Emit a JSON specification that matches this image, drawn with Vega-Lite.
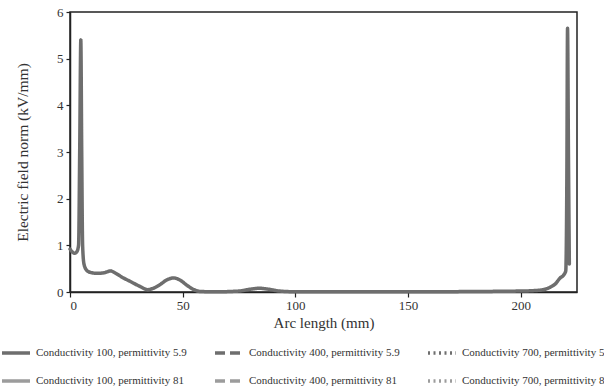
{
  "$schema": "https://vega.github.io/schema/vega-lite/v6.json",
  "autosize": {"type": "none"},
  "width": 507,
  "height": 280,
  "padding": {"left": 70, "top": 12, "right": 27, "bottom": 97},
  "background": "white",
  "config": {
    "font": "Liberation Serif",
    "view": {"stroke": "#222", "strokeWidth": 1.5},
    "axis": {"grid": false, "domainColor": "#222", "domainWidth": 1.5, "tickColor": "#222", "tickWidth": 1.2, "labelColor": "#333", "titleColor": "#333", "labelFont": "Liberation Serif", "titleFont": "Liberation Serif", "titleFontWeight": "normal"}
  },
  "data": {
    "values": [
      {"arc": 0, "e": 0.92, "series": "Conductivity 100, permittivity 5.9"},
      {"arc": 1, "e": 0.86, "series": "Conductivity 100, permittivity 5.9"},
      {"arc": 2, "e": 0.83, "series": "Conductivity 100, permittivity 5.9"},
      {"arc": 3, "e": 0.86, "series": "Conductivity 100, permittivity 5.9"},
      {"arc": 3.8, "e": 1.0, "series": "Conductivity 100, permittivity 5.9"},
      {"arc": 4.3, "e": 3.0, "series": "Conductivity 100, permittivity 5.9"},
      {"arc": 4.8, "e": 5.4, "series": "Conductivity 100, permittivity 5.9"},
      {"arc": 5.2, "e": 3.0, "series": "Conductivity 100, permittivity 5.9"},
      {"arc": 5.6, "e": 1.0, "series": "Conductivity 100, permittivity 5.9"},
      {"arc": 6.2, "e": 0.6, "series": "Conductivity 100, permittivity 5.9"},
      {"arc": 7.5, "e": 0.46, "series": "Conductivity 100, permittivity 5.9"},
      {"arc": 9, "e": 0.42, "series": "Conductivity 100, permittivity 5.9"},
      {"arc": 12, "e": 0.4, "series": "Conductivity 100, permittivity 5.9"},
      {"arc": 15, "e": 0.41, "series": "Conductivity 100, permittivity 5.9"},
      {"arc": 18, "e": 0.45, "series": "Conductivity 100, permittivity 5.9"},
      {"arc": 20, "e": 0.41, "series": "Conductivity 100, permittivity 5.9"},
      {"arc": 23, "e": 0.32, "series": "Conductivity 100, permittivity 5.9"},
      {"arc": 27, "e": 0.22, "series": "Conductivity 100, permittivity 5.9"},
      {"arc": 31, "e": 0.12, "series": "Conductivity 100, permittivity 5.9"},
      {"arc": 34.5, "e": 0.05, "series": "Conductivity 100, permittivity 5.9"},
      {"arc": 37, "e": 0.08, "series": "Conductivity 100, permittivity 5.9"},
      {"arc": 40, "e": 0.16, "series": "Conductivity 100, permittivity 5.9"},
      {"arc": 43, "e": 0.26, "series": "Conductivity 100, permittivity 5.9"},
      {"arc": 46, "e": 0.3, "series": "Conductivity 100, permittivity 5.9"},
      {"arc": 49, "e": 0.25, "series": "Conductivity 100, permittivity 5.9"},
      {"arc": 52, "e": 0.14, "series": "Conductivity 100, permittivity 5.9"},
      {"arc": 55, "e": 0.05, "series": "Conductivity 100, permittivity 5.9"},
      {"arc": 58, "e": 0.01, "series": "Conductivity 100, permittivity 5.9"},
      {"arc": 65, "e": 0.005, "series": "Conductivity 100, permittivity 5.9"},
      {"arc": 75, "e": 0.02, "series": "Conductivity 100, permittivity 5.9"},
      {"arc": 80, "e": 0.06, "series": "Conductivity 100, permittivity 5.9"},
      {"arc": 84, "e": 0.08, "series": "Conductivity 100, permittivity 5.9"},
      {"arc": 88, "e": 0.06, "series": "Conductivity 100, permittivity 5.9"},
      {"arc": 93, "e": 0.02, "series": "Conductivity 100, permittivity 5.9"},
      {"arc": 100, "e": 0.005, "series": "Conductivity 100, permittivity 5.9"},
      {"arc": 150, "e": 0.005, "series": "Conductivity 100, permittivity 5.9"},
      {"arc": 200, "e": 0.02, "series": "Conductivity 100, permittivity 5.9"},
      {"arc": 206, "e": 0.03, "series": "Conductivity 100, permittivity 5.9"},
      {"arc": 210, "e": 0.05, "series": "Conductivity 100, permittivity 5.9"},
      {"arc": 213, "e": 0.1, "series": "Conductivity 100, permittivity 5.9"},
      {"arc": 215.5, "e": 0.18, "series": "Conductivity 100, permittivity 5.9"},
      {"arc": 217.5, "e": 0.3, "series": "Conductivity 100, permittivity 5.9"},
      {"arc": 219, "e": 0.36, "series": "Conductivity 100, permittivity 5.9"},
      {"arc": 220, "e": 0.45, "series": "Conductivity 100, permittivity 5.9"},
      {"arc": 220.5, "e": 2.5, "series": "Conductivity 100, permittivity 5.9"},
      {"arc": 220.8, "e": 5.65, "series": "Conductivity 100, permittivity 5.9"},
      {"arc": 221.2, "e": 3.0, "series": "Conductivity 100, permittivity 5.9"},
      {"arc": 221.6, "e": 0.6, "series": "Conductivity 100, permittivity 5.9"}
    ]
  },
  "mark": {"type": "line", "strokeWidth": 3.5, "interpolate": "monotone", "strokeCap": "round", "strokeJoin": "round"},
  "encoding": {
    "x": {"field": "arc", "type": "quantitative", "scale": {"domain": [0, 225], "nice": false},
      "axis": {"values": [0, 50, 100, 150, 200], "title": "Arc length (mm)", "tickSize": 5, "labelPadding": 2, "labelFontSize": 13, "titleFontSize": 15, "titlePadding": 3}},
    "y": {"field": "e", "type": "quantitative", "scale": {"domain": [0, 6], "nice": false},
      "axis": {"values": [0, 1, 2, 3, 4, 5, 6], "title": "Electric field norm (kV/mm)", "tickSize": 4, "labelPadding": 3, "labelFontSize": 13, "titleFontSize": 15.5, "titlePadding": 26}},
    "color": {"field": "series", "type": "nominal",
      "scale": {
        "domain": ["Conductivity 100, permittivity 5.9", "Conductivity 100, permittivity 81", "Conductivity 400, permittivity 5.9", "Conductivity 400, permittivity 81", "Conductivity 700, permittivity 5.9", "Conductivity 700, permittivity 81"],
        "range": ["#6e6e6e", "#9c9c9c", "#6e6e6e", "#9c9c9c", "#6e6e6e", "#9c9c9c"]},
      "legend": {"orient": "none", "legendX": -70, "legendY": 325, "columns": 3, "title": null, "symbolType": "stroke", "symbolSize": 784, "symbolStrokeWidth": 3.5, "labelFont": "Liberation Serif", "labelFontSize": 11, "labelColor": "#333", "labelOffset": 4, "columnPadding": 21, "rowPadding": 5, "labelLimit": 400}},
    "strokeDash": {"field": "series", "type": "nominal",
      "scale": {
        "domain": ["Conductivity 100, permittivity 5.9", "Conductivity 100, permittivity 81", "Conductivity 400, permittivity 5.9", "Conductivity 400, permittivity 81", "Conductivity 700, permittivity 5.9", "Conductivity 700, permittivity 81"],
        "range": [[1, 0], [1, 0], [10, 5], [10, 5], [2, 3.5], [2, 3.5]]}}
  }
}
